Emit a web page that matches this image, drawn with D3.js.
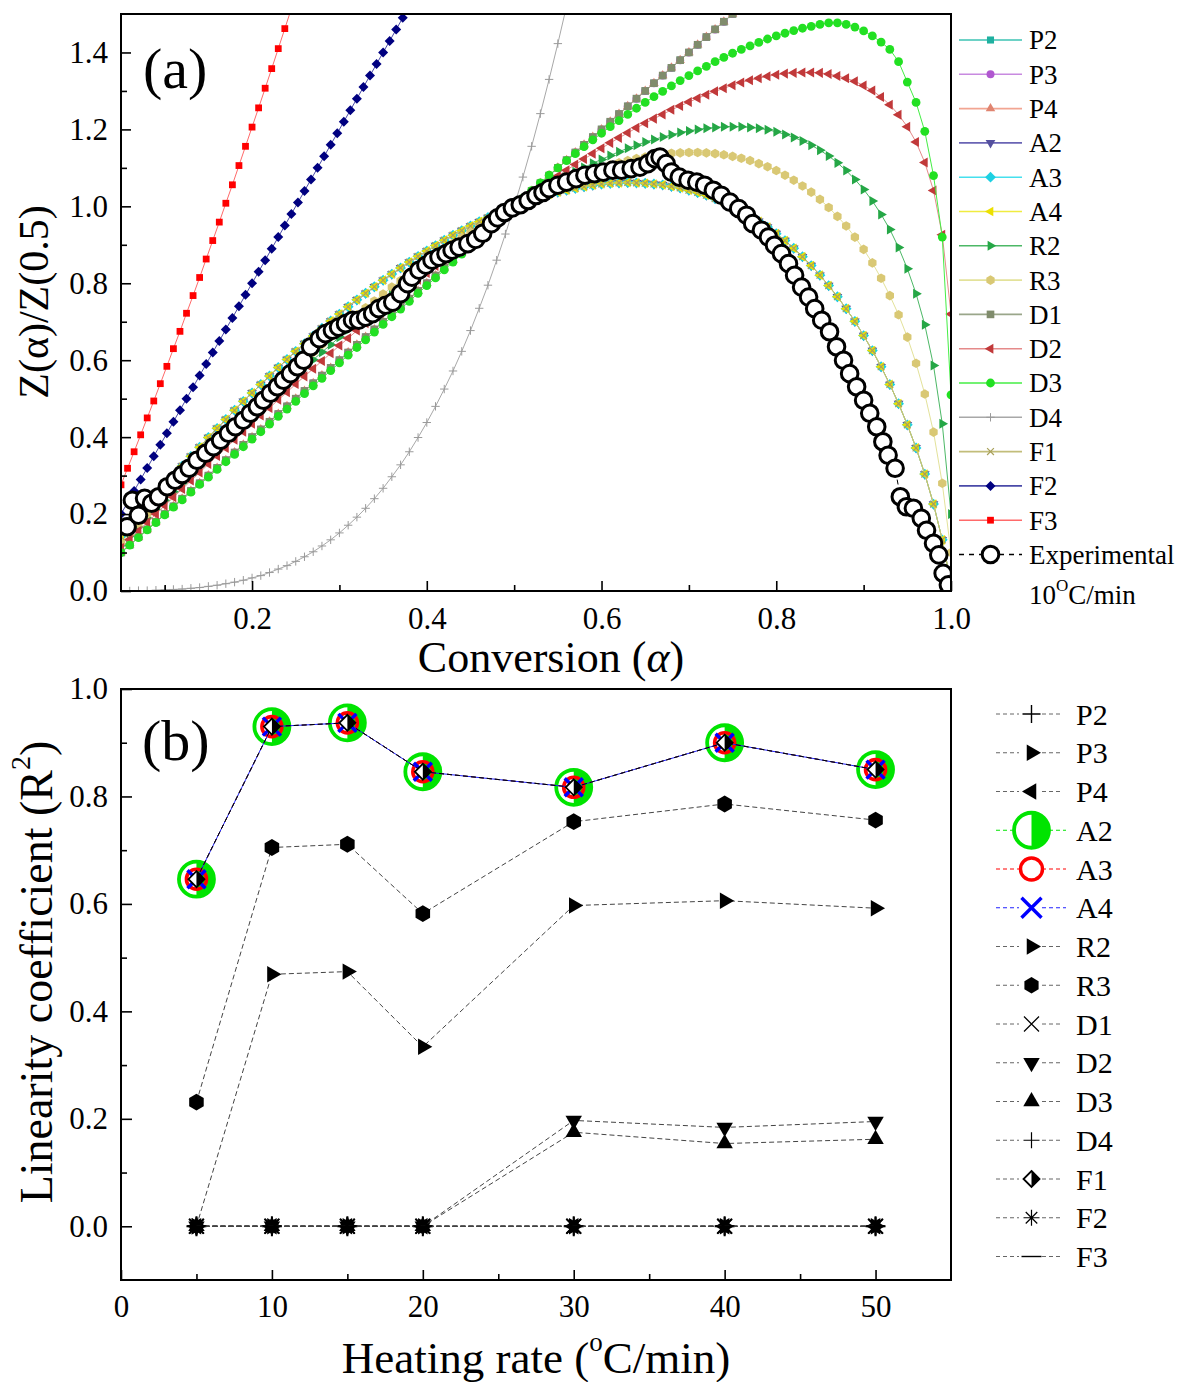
<!DOCTYPE html>
<html>
<head>
<meta charset="utf-8">
<script src="https://cdn.jsdelivr.net/npm/d3@7"></script>
<style>
  body { margin: 0; background: #fff; }
  svg text { font-family: "Liberation Serif", "Times New Roman", Times, serif; }
</style>
</head>
<body>
<svg id="chart" width="1181" height="1382"></svg>
<script>
// ---------- Panel (a): master plots Z(α)/Z(0.5) ----------
const alphaGrid = [0.05,0.06,0.07,0.08,0.09,0.10,0.11,0.12,0.13,0.14,0.15,0.16,0.17,0.18,0.19,0.20,0.21,0.22,0.23,0.24,0.25,0.26,0.27,0.28,0.29,0.30,0.31,0.32,0.33,0.34,0.35,0.36,0.37,0.38,0.39,0.40,0.41,0.42,0.43,0.44,0.45,0.46,0.47,0.48,0.49,0.50,0.51,0.52,0.53,0.54,0.55,0.56,0.57,0.58,0.59,0.60,0.61,0.62,0.63,0.64,0.65,0.66,0.67,0.68,0.69,0.70,0.71,0.72,0.73,0.74,0.75,0.76,0.77,0.78,0.79,0.80,0.81,0.82,0.83,0.84,0.85,0.86,0.87,0.88,0.89,0.90,0.91,0.92,0.93,0.94,0.95,0.96,0.97,0.98,0.99,1.00];
const alphaFine = [0.05,0.0575,0.065,0.0725,0.08,0.0875,0.095,0.1025,0.11,0.1175,0.125,0.1325,0.14,0.1475,0.155,0.1625,0.17,0.1775,0.185,0.1925,0.2,0.2075,0.215,0.2225,0.23,0.2375,0.245,0.2525,0.26,0.2675,0.275,0.2825,0.29,0.2975,0.305,0.3125,0.32,0.3275,0.335,0.3425,0.35,0.3575,0.365,0.3725,0.38];

// power-law / D1 group (identical curves)
const zP = [0.10,0.12,0.14,0.16,0.18,0.20,0.22,0.24,0.26,0.28,0.30,0.32,0.34,0.36,0.38,0.40,0.42,0.44,0.46,0.48,0.50,0.52,0.54,0.56,0.58,0.60,0.62,0.64,0.66,0.68,0.70,0.72,0.74,0.76,0.78,0.80,0.82,0.84,0.86,0.88,0.90,0.92,0.94,0.96,0.98,1.00,1.02,1.04,1.06,1.08,1.10,1.12,1.14,1.16,1.18,1.20,1.22,1.24,1.26,1.28,1.30,1.32,1.34,1.36,1.38,1.40,1.42,1.44,1.46,1.48,1.50];
// Avrami-Erofeev / first-order group (identical curves)
const zA = [0.141,0.168,0.195,0.221,0.248,0.274,0.299,0.325,0.350,0.374,0.399,0.423,0.446,0.470,0.493,0.515,0.537,0.559,0.581,0.602,0.623,0.643,0.663,0.683,0.702,0.720,0.739,0.757,0.774,0.791,0.808,0.824,0.840,0.855,0.870,0.884,0.898,0.912,0.925,0.937,0.949,0.960,0.971,0.981,0.991,1.000,1.009,1.017,1.024,1.031,1.037,1.042,1.047,1.051,1.055,1.058,1.060,1.061,1.062,1.061,1.060,1.058,1.056,1.052,1.048,1.042,1.036,1.029,1.020,1.011,1.000,0.988,0.975,0.961,0.946,0.929,0.911,0.891,0.869,0.846,0.821,0.794,0.765,0.734,0.701,0.664,0.625,0.583,0.537,0.487,0.432,0.372,0.304,0.226,0.133,0.02];
const zR2 = [0.119,0.143,0.166,0.189,0.212,0.235,0.258,0.280,0.303,0.325,0.347,0.369,0.391,0.413,0.435,0.456,0.477,0.498,0.519,0.540,0.560,0.581,0.601,0.621,0.640,0.660,0.679,0.698,0.717,0.736,0.754,0.773,0.791,0.808,0.826,0.843,0.860,0.877,0.893,0.909,0.925,0.941,0.956,0.971,0.986,1.000,1.014,1.028,1.041,1.054,1.066,1.078,1.090,1.101,1.112,1.122,1.132,1.142,1.151,1.159,1.167,1.174,1.180,1.186,1.192,1.196,1.200,1.203,1.205,1.207,1.207,1.207,1.205,1.203,1.199,1.194,1.187,1.179,1.170,1.159,1.146,1.131,1.113,1.093,1.070,1.044,1.014,0.979,0.940,0.893,0.838,0.773,0.692,0.586,0.435,0.20];
const zR3 = [0.126,0.151,0.175,0.200,0.224,0.248,0.271,0.295,0.318,0.341,0.364,0.387,0.409,0.432,0.454,0.475,0.497,0.518,0.539,0.560,0.581,0.601,0.621,0.641,0.661,0.680,0.699,0.718,0.736,0.754,0.772,0.790,0.807,0.824,0.841,0.857,0.873,0.889,0.904,0.919,0.933,0.947,0.961,0.975,0.988,1.000,1.012,1.024,1.035,1.046,1.056,1.066,1.075,1.084,1.092,1.099,1.107,1.113,1.119,1.124,1.128,1.132,1.135,1.138,1.139,1.140,1.140,1.139,1.137,1.134,1.130,1.125,1.119,1.111,1.103,1.093,1.081,1.068,1.053,1.037,1.018,0.997,0.974,0.949,0.920,0.888,0.853,0.813,0.768,0.718,0.660,0.592,0.512,0.413,0.280,0.10];
const zD2 = [0.112,0.134,0.156,0.178,0.200,0.222,0.244,0.265,0.287,0.308,0.330,0.351,0.372,0.393,0.414,0.435,0.456,0.476,0.497,0.517,0.538,0.558,0.578,0.598,0.618,0.638,0.657,0.677,0.696,0.715,0.734,0.753,0.772,0.790,0.809,0.827,0.845,0.863,0.881,0.898,0.916,0.933,0.950,0.967,0.984,1.000,1.016,1.032,1.048,1.064,1.079,1.094,1.109,1.123,1.137,1.151,1.165,1.178,1.191,1.204,1.216,1.228,1.239,1.251,1.261,1.271,1.281,1.290,1.299,1.307,1.315,1.322,1.328,1.333,1.338,1.342,1.345,1.347,1.348,1.348,1.347,1.344,1.339,1.333,1.325,1.314,1.301,1.284,1.264,1.238,1.207,1.167,1.114,1.041,0.926,0.72];
const zD3 = [0.100,0.119,0.139,0.159,0.178,0.198,0.218,0.237,0.257,0.277,0.296,0.316,0.336,0.355,0.375,0.395,0.414,0.434,0.454,0.473,0.493,0.513,0.533,0.553,0.573,0.593,0.613,0.633,0.653,0.673,0.693,0.713,0.733,0.753,0.774,0.794,0.814,0.835,0.855,0.876,0.896,0.917,0.938,0.958,0.979,1.000,1.021,1.041,1.061,1.081,1.100,1.119,1.137,1.155,1.173,1.190,1.207,1.223,1.239,1.255,1.270,1.285,1.299,1.313,1.327,1.340,1.352,1.364,1.376,1.387,1.398,1.408,1.417,1.426,1.435,1.443,1.450,1.457,1.463,1.468,1.473,1.477,1.477,1.473,1.466,1.456,1.443,1.427,1.408,1.376,1.323,1.270,1.195,1.080,0.920,0.510];
const zD4 = [0.000,0.000,0.001,0.001,0.002,0.003,0.004,0.005,0.007,0.009,0.012,0.015,0.019,0.023,0.028,0.034,0.040,0.048,0.057,0.066,0.077,0.089,0.102,0.117,0.133,0.151,0.171,0.192,0.215,0.240,0.267,0.297,0.328,0.362,0.399,0.438,0.480,0.525,0.572,0.623,0.677,0.735,0.795,0.860,0.928,1.000,1.076,1.156,1.241,1.330,1.423,1.521];
const zF2 = [0.20,0.23,0.26,0.29,0.32,0.35,0.38,0.41,0.44,0.47,0.50,0.53,0.56,0.59,0.62,0.65,0.68,0.71,0.74,0.77,0.80,0.83,0.86,0.89,0.92,0.95,0.98,1.01,1.04,1.07,1.10,1.13,1.16,1.19,1.22,1.25,1.28,1.31,1.34,1.37,1.40,1.43,1.46,1.49,1.52];
const zF3 = [0.276,0.319,0.362,0.406,0.450,0.494,0.539,0.584,0.630,0.675,0.722,0.768,0.815,0.863,0.911,0.959,1.008,1.056,1.106,1.156,1.206,1.256,1.307,1.358,1.410,1.462,1.514];

// experimental curve at 10 °C/min
const expAlpha = [0.057,0.063,0.070,0.077,0.085,0.093,0.103,0.112,0.120,0.128,0.137,0.147,0.156,0.164,0.173,0.181,0.190,0.198,0.206,0.213,0.221,0.229,0.236,0.244,0.252,0.259,0.267,0.277,0.284,0.292,0.299,0.307,0.315,0.322,0.330,0.338,0.345,0.353,0.361,0.370,0.378,0.383,0.391,0.399,0.406,0.414,0.422,0.429,0.437,0.447,0.456,0.464,0.474,0.481,0.489,0.498,0.507,0.516,0.525,0.533,0.540,0.550,0.560,0.571,0.581,0.592,0.602,0.613,0.623,0.634,0.644,0.653,0.661,0.667,0.674,0.680,0.689,0.699,0.709,0.718,0.728,0.737,0.747,0.757,0.766,0.773,0.783,0.791,0.798,0.806,0.814,0.821,0.829,0.837,0.844,0.852,0.861,0.869,0.877,0.884,0.892,0.900,0.907,0.915,0.922,0.928,0.936,0.942,0.949,0.957,0.966,0.972,0.980,0.986,0.991,0.997];
const expZ = [0.167,0.236,0.197,0.241,0.228,0.245,0.271,0.288,0.303,0.319,0.340,0.358,0.375,0.392,0.410,0.427,0.444,0.462,0.479,0.496,0.514,0.531,0.548,0.565,0.583,0.600,0.635,0.656,0.669,0.678,0.686,0.695,0.704,0.704,0.712,0.721,0.734,0.743,0.751,0.773,0.799,0.816,0.834,0.847,0.860,0.868,0.877,0.886,0.894,0.903,0.914,0.930,0.955,0.970,0.984,0.996,1.004,1.015,1.028,1.036,1.046,1.055,1.063,1.072,1.081,1.085,1.089,1.094,1.094,1.098,1.102,1.111,1.124,1.128,1.111,1.089,1.076,1.068,1.063,1.055,1.042,1.029,1.011,0.994,0.977,0.955,0.938,0.920,0.899,0.877,0.851,0.821,0.790,0.764,0.734,0.704,0.674,0.635,0.600,0.565,0.531,0.496,0.462,0.427,0.388,0.353,0.319,0.245,0.219,0.215,0.189,0.158,0.124,0.094,0.046,0.016];

const xTicksA = [0.2, 0.4, 0.6, 0.8, 1.0];
const yTicksA = [0.0, 0.2, 0.4, 0.6, 0.8, 1.0, 1.2, 1.4];

// ---------- Panel (b): linearity coefficients ----------
const heatingRates = [5, 10, 15, 20, 30, 40, 50];
const r2Avrami = [0.646, 0.930, 0.937, 0.846, 0.817, 0.900, 0.850];
const r2R3 = [0.231, 0.705, 0.711, 0.582, 0.753, 0.786, 0.756];
const r2R2 = [0, 0.469, 0.474, 0.334, 0.597, 0.606, 0.592];
const r2D2 = [0, 0, 0, 0, 0.197, 0.184, 0.195];
const r2D3 = [0, 0, 0, 0, 0.175, 0.154, 0.162];
const r2Nil = [0, 0, 0, 0, 0, 0, 0];
const xTicksB = [0, 10, 20, 30, 40, 50];
const yTicksB = [0.0, 0.2, 0.4, 0.6, 0.8, 1.0];

// ---------- marker shapes ----------
const TAU = Math.PI * 2;
const polygon = (n, a0) => ({
  draw(ctx, r) {
    for (let i = 0; i < n; i++) {
      const a = a0 + i * TAU / n;
      const px = r * Math.cos(a), py = r * Math.sin(a);
      if (i === 0) ctx.moveTo(px, py); else ctx.lineTo(px, py);
    }
    ctx.closePath();
  }
});
const shapes = {
  square: polygon(4, Math.PI / 4),
  diamond: polygon(4, -Math.PI / 2),
  triUp: polygon(3, -Math.PI / 2),
  triDown: polygon(3, Math.PI / 2),
  triLeft: polygon(3, Math.PI),
  triRight: polygon(3, 0),
  hexagon: polygon(6, -Math.PI / 2),
  circle: { draw(ctx, r) { ctx.moveTo(r, 0); ctx.arc(0, 0, r, 0, TAU); } },
  plus: { draw(ctx, r) { ctx.moveTo(-r, 0); ctx.lineTo(r, 0); ctx.moveTo(0, -r); ctx.lineTo(0, r); } },
  cross: { draw(ctx, r) { ctx.moveTo(-r, -r); ctx.lineTo(r, r); ctx.moveTo(-r, r); ctx.lineTo(r, -r); } },
  asterisk: { draw(ctx, r) {
    const k = r * 0.72;
    ctx.moveTo(-r, 0); ctx.lineTo(r, 0); ctx.moveTo(0, -r); ctx.lineTo(0, r);
    ctx.moveTo(-k, -k); ctx.lineTo(k, k); ctx.moveTo(-k, k); ctx.lineTo(k, -k);
  } },
  dash: { draw(ctx, r) { ctx.moveTo(-r, 0); ctx.lineTo(r, 0); } },
  halfRight: { draw(ctx, r) { ctx.moveTo(0, -r); ctx.arc(0, 0, r, -Math.PI / 2, Math.PI / 2); ctx.closePath(); } },
  diamondRight: { draw(ctx, r) { ctx.moveTo(0, -r); ctx.lineTo(r, 0); ctx.lineTo(0, r); ctx.closePath(); } }
};
const strokeOnly = new Set(["plus", "cross", "asterisk", "dash"]);

// a marker is a list of layers drawn on top of each other
function simpleMarker(shape, r, color, sw) {
  if (strokeOnly.has(shape)) return [{ shape, r, fill: "none", stroke: color, sw: sw || 1.2 }];
  return [{ shape, r, fill: color, stroke: "none", sw: 0 }];
}
function drawMarker(g, layers) {
  layers.forEach(l => {
    g.append("path")
      .attr("d", d3.symbol().type(shapes[l.shape]).size(l.r)())
      .attr("fill", l.fill)
      .attr("stroke", l.stroke)
      .attr("stroke-width", l.sw);
  });
}

const svg = d3.select("#chart");

// ---------- Panel (a) ----------
const xA = d3.scaleLinear().domain([0.05, 1.0]).range([121, 951]);
const yA = d3.scaleLinear().domain([0, 1.5]).range([591, 14]);

const modelsA = [
  { name: "P2", x: alphaGrid, y: zP,  line: "#3cc3b3", marker: simpleMarker("square", 5.0, "#1fb0a0") },
  { name: "P3", x: alphaGrid, y: zP,  line: "#c88ae0", marker: simpleMarker("circle", 4.0, "#b057d0") },
  { name: "P4", x: alphaGrid, y: zP,  line: "#f2a592", marker: simpleMarker("triUp", 5.5, "#e08470") },
  { name: "A2", x: alphaGrid, y: zA,  line: "#6a64b4", marker: simpleMarker("triDown", 5.6, "#54509e") },
  { name: "A3", x: alphaGrid, y: zA,  line: "#45e0ee", marker: simpleMarker("diamond", 5.4, "#1dd0e2") },
  { name: "A4", x: alphaGrid, y: zA,  line: "#f0ec40", marker: simpleMarker("triLeft", 5.6, "#ece000") },
  { name: "R2", x: alphaGrid, y: zR2, line: "#4cb866", marker: simpleMarker("triRight", 5.8, "#25a746") },
  { name: "R3", x: alphaGrid, y: zR3, line: "#e3e29a", marker: simpleMarker("hexagon", 4.8, "#d9c874") },
  { name: "D1", x: alphaGrid, y: zP,  line: "#9aa68a", marker: simpleMarker("square", 5.4, "#808c6c") },
  { name: "D2", x: alphaGrid, y: zD2, line: "#e58a8a", marker: simpleMarker("triLeft", 5.8, "#c1393a") },
  { name: "D3", x: alphaGrid, y: zD3, line: "#44ee44", marker: simpleMarker("circle", 4.4, "#22e022") },
  { name: "D4", x: alphaGrid, y: zD4, line: "#a8a8a8", marker: simpleMarker("plus", 4.2, "#9a9a9a", 1) },
  { name: "F1", x: alphaGrid, y: zA,  line: "#c2bd7a", marker: simpleMarker("cross", 3.4, "#a8a05a", 1.2) },
  { name: "F2", x: alphaFine, y: zF2, line: "#4a4aa8", marker: simpleMarker("diamond", 5.0, "#000080") },
  { name: "F3", x: alphaFine, y: zF3, line: "#ff6a6a", marker: simpleMarker("square", 4.8, "#ff0000") }
];
const expMarker = [{ shape: "circle", r: 8.3, fill: "#fff", stroke: "#000", sw: 3 }];

svg.append("clipPath").attr("id", "clipA")
  .append("rect").attr("x", 121).attr("y", 14).attr("width", 830).attr("height", 577);
const plotA = svg.append("g").attr("clip-path", "url(#clipA)");
const lineA = d3.line().x(d => xA(d[0])).y(d => yA(d[1]));

modelsA.forEach(m => {
  const pts = m.y.map((v, i) => [m.x[i], v]);
  const g = plotA.append("g").attr("class", "series-" + m.name);
  g.append("path").attr("d", lineA(pts)).attr("fill", "none")
    .attr("stroke", m.line).attr("stroke-width", 1);
  pts.forEach(p => {
    drawMarker(g.append("g").attr("transform", `translate(${xA(p[0])},${yA(p[1])})`), m.marker);
  });
});

{
  const pts = expZ.map((v, i) => [expAlpha[i], v]);
  const g = plotA.append("g").attr("class", "series-exp");
  g.append("path").attr("d", lineA(pts)).attr("fill", "none")
    .attr("stroke", "#000").attr("stroke-width", 1).attr("stroke-dasharray", "5,4");
  pts.forEach(p => {
    drawMarker(g.append("g").attr("transform", `translate(${xA(p[0])},${yA(p[1])})`), expMarker);
  });
}

// axes (ticks pointing inward)
function styleAxis(sel, size) {
  sel.select(".domain").remove();
  sel.attr("font-family", null).attr("font-size", size);
  sel.selectAll(".tick line").attr("stroke", "#000").attr("stroke-width", 1.6);
  sel.selectAll(".tick text").attr("fill", "#000");
  return sel;
}
styleAxis(svg.append("g").attr("transform", "translate(0,591)")
  .call(d3.axisBottom(xA).tickValues(xTicksA).tickFormat(d3.format(".1f")).tickSize(-10).tickPadding(16)), 31);
styleAxis(svg.append("g").attr("transform", "translate(0,591)")
  .call(d3.axisBottom(xA).tickValues([0.1, 0.3, 0.5, 0.7, 0.9]).tickFormat("").tickSize(-6)), 31);
styleAxis(svg.append("g").attr("transform", "translate(121,0)")
  .call(d3.axisLeft(yA).tickValues(yTicksA).tickFormat(d3.format(".1f")).tickSize(-10).tickPadding(13)), 31);
styleAxis(svg.append("g").attr("transform", "translate(121,0)")
  .call(d3.axisLeft(yA).tickValues([0.1, 0.3, 0.5, 0.7, 0.9, 1.1, 1.3]).tickFormat("").tickSize(-6)), 31);

svg.append("rect").attr("x", 121).attr("y", 14).attr("width", 830).attr("height", 577)
  .attr("fill", "none").attr("stroke", "#000").attr("stroke-width", 2);

svg.append("text").attr("x", 143).attr("y", 88).attr("font-size", 58).text("(a)");

const xTitleA = svg.append("text").attr("x", 551).attr("y", 672).attr("text-anchor", "middle").attr("font-size", 44);
xTitleA.append("tspan").text("Conversion (");
xTitleA.append("tspan").attr("font-style", "italic").text("α");
xTitleA.append("tspan").text(")");

svg.append("text").attr("transform", "translate(48,302) rotate(-90)")
  .attr("text-anchor", "middle").attr("font-size", 42).text("Z(α)/Z(0.5)");

// legend (a)
const legA = svg.append("g");
const legAy0 = 40, legAstep = 34.3;
modelsA.forEach((m, i) => {
  const y = legAy0 + i * legAstep;
  legA.append("line").attr("x1", 959).attr("x2", 1022).attr("y1", y).attr("y2", y)
    .attr("stroke", m.line).attr("stroke-width", 1.6);
  drawMarker(legA.append("g").attr("transform", `translate(990.5,${y})`), m.marker);
  legA.append("text").attr("x", 1029).attr("y", y).attr("dy", "0.35em").attr("font-size", 27).text(m.name);
});
{
  const y = legAy0 + modelsA.length * legAstep;
  legA.append("line").attr("x1", 959).attr("x2", 1022).attr("y1", y).attr("y2", y)
    .attr("stroke", "#000").attr("stroke-width", 1.6).attr("stroke-dasharray", "5,5");
  drawMarker(legA.append("g").attr("transform", `translate(990.5,${y})`), expMarker);
  legA.append("text").attr("x", 1029).attr("y", y).attr("dy", "0.35em").attr("font-size", 27).text("Experimental");
  const t = legA.append("text").attr("x", 1029).attr("y", y + 40).attr("dy", "0.35em").attr("font-size", 27);
  t.append("tspan").text("10");
  t.append("tspan").attr("font-size", 17).attr("dy", "-0.75em").text("O");
  t.append("tspan").attr("dy", "0.48em").text("C/min");
}

// ---------- Panel (b) ----------
const xB = d3.scaleLinear().domain([0, 55]).range([121, 951]);
const yB = d3.scaleLinear().domain([-0.1, 1.0]).range([1280, 689]);

const green = "#00e400";
const a2Marker = (r) => [
  { shape: "circle", r, fill: "#fff", stroke: green, sw: 3.8 },
  { shape: "halfRight", r, fill: green, stroke: "none", sw: 0 }
];
const f1Marker = (r) => [
  { shape: "diamond", r, fill: "#fff", stroke: "#000", sw: 1.8 },
  { shape: "diamondRight", r, fill: "#000", stroke: "none", sw: 0 }
];

const modelsB = [
  { name: "P2", y: r2Nil, line: "#444", dash: "5,3", marker: simpleMarker("plus", 9, "#000", 1.6), legMarker: simpleMarker("plus", 9, "#000", 1.4) },
  { name: "P3", y: r2Nil, line: "#444", dash: "5,3", marker: simpleMarker("triRight", 9.5, "#000"), legMarker: simpleMarker("triRight", 9.5, "#000") },
  { name: "P4", y: r2Nil, line: "#444", dash: "5,3", marker: simpleMarker("triLeft", 9.5, "#000"), legMarker: simpleMarker("triLeft", 9.5, "#000") },
  { name: "A2", y: r2Avrami, line: green, dash: "5,3", marker: a2Marker(17.5), legMarker: a2Marker(17.5) },
  { name: "A3", y: r2Avrami, line: "#ff0000", dash: "5,3", marker: [{ shape: "circle", r: 10, fill: "none", stroke: "#ff0000", sw: 3.6 }], legMarker: [{ shape: "circle", r: 11, fill: "none", stroke: "#ff0000", sw: 3.4 }] },
  { name: "A4", y: r2Avrami, line: "#2020ff", dash: null, marker: simpleMarker("cross", 9, "#0000ff", 3.4), legMarker: simpleMarker("cross", 10, "#0000ff", 3.4) },
  { name: "R2", y: r2R2, line: "#444", dash: "5,3", marker: simpleMarker("triRight", 9.5, "#000"), legMarker: simpleMarker("triRight", 9.5, "#000") },
  { name: "R3", y: r2R3, line: "#444", dash: "5,3", marker: simpleMarker("hexagon", 8.4, "#000"), legMarker: simpleMarker("hexagon", 8.2, "#000") },
  { name: "D1", y: r2Nil, line: "#444", dash: "5,3", marker: simpleMarker("cross", 7.5, "#000", 1.6), legMarker: simpleMarker("cross", 7.5, "#000", 1.2) },
  { name: "D2", y: r2D2, line: "#444", dash: "5,3", marker: simpleMarker("triDown", 9.5, "#000"), legMarker: simpleMarker("triDown", 9.5, "#000") },
  { name: "D3", y: r2D3, line: "#444", dash: "5,3", marker: simpleMarker("triUp", 9.5, "#000"), legMarker: simpleMarker("triUp", 9.5, "#000") },
  { name: "D4", y: r2Nil, line: "#444", dash: "5,3", marker: simpleMarker("plus", 9, "#000", 1.6), legMarker: simpleMarker("plus", 8, "#000", 1.2) },
  { name: "F1", y: r2Avrami, line: "#000", dash: "5,3", marker: f1Marker(8), legMarker: f1Marker(8) },
  { name: "F2", y: r2Nil, line: "#444", dash: "5,3", marker: simpleMarker("asterisk", 10, "#000", 2), legMarker: simpleMarker("asterisk", 8, "#000", 1.2) },
  { name: "F3", y: r2Nil, line: "#444", dash: "5,3", marker: simpleMarker("dash", 9, "#000", 1.6), legMarker: simpleMarker("dash", 10, "#000", 1.4) }
];

const lineB = d3.line().x(d => xB(d[0])).y(d => yB(d[1]));
const plotB = svg.append("g");
modelsB.forEach(m => {
  const pts = m.y.map((v, i) => [heatingRates[i], v]);
  const g = plotB.append("g").attr("class", "series-" + m.name);
  const p = g.append("path").attr("d", lineB(pts)).attr("fill", "none")
    .attr("stroke", m.line).attr("stroke-width", 1);
  if (m.dash) p.attr("stroke-dasharray", m.dash);
  pts.forEach(q => {
    drawMarker(g.append("g").attr("transform", `translate(${xB(q[0])},${yB(q[1])})`), m.marker);
  });
});

styleAxis(svg.append("g").attr("transform", "translate(0,1280)")
  .call(d3.axisBottom(xB).tickValues(xTicksB).tickFormat(d3.format("d")).tickSize(-10).tickPadding(15)), 31);
styleAxis(svg.append("g").attr("transform", "translate(0,1280)")
  .call(d3.axisBottom(xB).tickValues([5, 15, 25, 35, 45]).tickFormat("").tickSize(-6)), 31);
styleAxis(svg.append("g").attr("transform", "translate(121,0)")
  .call(d3.axisLeft(yB).tickValues(yTicksB).tickFormat(d3.format(".1f")).tickSize(-11).tickPadding(13)), 31);
styleAxis(svg.append("g").attr("transform", "translate(121,0)")
  .call(d3.axisLeft(yB).tickValues([0.1, 0.3, 0.5, 0.7, 0.9]).tickFormat("").tickSize(-6)), 31);

svg.append("rect").attr("x", 121).attr("y", 689).attr("width", 830).attr("height", 591)
  .attr("fill", "none").attr("stroke", "#000").attr("stroke-width", 2);

svg.append("text").attr("x", 142).attr("y", 760).attr("font-size", 58).text("(b)");

const xTitleB = svg.append("text").attr("x", 536).attr("y", 1373).attr("text-anchor", "middle").attr("font-size", 45);
xTitleB.append("tspan").text("Heating rate (");
xTitleB.append("tspan").attr("font-size", 27).attr("dy", "-0.8em").text("o");
xTitleB.append("tspan").attr("dy", "0.48em").text("C/min)");

const yTitleB = svg.append("text").attr("transform", "translate(52,972) rotate(-90)")
  .attr("text-anchor", "middle").attr("font-size", 46);
yTitleB.append("tspan").text("Linearity coefficient (R");
yTitleB.append("tspan").attr("font-size", 28).attr("dy", "-0.8em").text("2");
yTitleB.append("tspan").attr("dy", "0.49em").text(")");

// legend (b)
const legB = svg.append("g");
const legBy0 = 714, legBstep = 38.75;
modelsB.forEach((m, i) => {
  const y = legBy0 + i * legBstep;
  const colored = ["A2", "A3", "A4"].includes(m.name);
  const lc = colored ? m.line : "#666";
  const xEnd = colored ? 1066 : 1060;
  legB.append("line").attr("x1", 996).attr("x2", 1019).attr("y1", y).attr("y2", y)
    .attr("stroke", lc).attr("stroke-width", 1).attr("stroke-dasharray", "4,3");
  legB.append("line").attr("x1", 1042).attr("x2", xEnd).attr("y1", y).attr("y2", y)
    .attr("stroke", lc).attr("stroke-width", 1).attr("stroke-dasharray", "4,3");
  drawMarker(legB.append("g").attr("transform", `translate(1031.5,${y})`), m.legMarker);
  legB.append("text").attr("x", 1076).attr("y", y).attr("dy", "0.35em").attr("font-size", 30).text(m.name);
});
</script>
</body>
</html>
